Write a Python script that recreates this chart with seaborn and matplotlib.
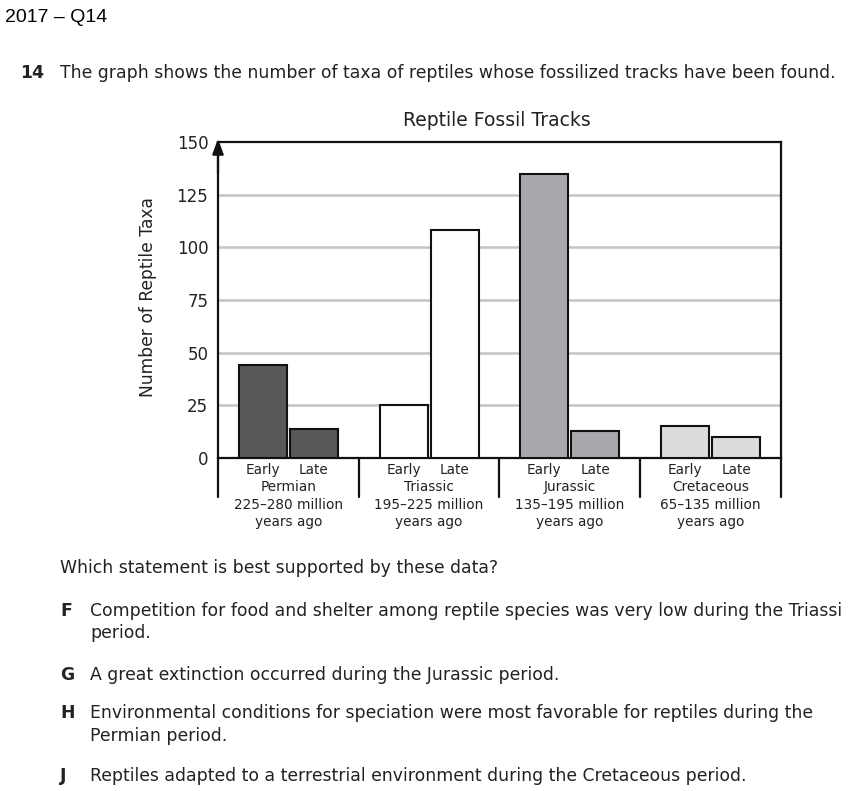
import matplotlib
matplotlib.use("Agg")
import matplotlib.pyplot as plt
import matplotlib.transforms as mtransforms
from matplotlib.lines import Line2D
import seaborn as sns
import pandas as pd

# ---- data ----
periods = ["Permian", "Triassic", "Jurassic", "Cretaceous"]
period_ranges = ["225–280 million", "195–225 million", "135–195 million", "65–135 million"]
stages = ["Early", "Late"]
early_taxa = [44, 25, 135, 15]
late_taxa = [14, 108, 13, 10]
period_colors = ["#58585a", "#ffffff", "#a8a9ac", "#dcdcdc"]
y_ticks = [0, 25, 50, 75, 100, 125, 150]

df = pd.DataFrame({
    "period": periods * 2,
    "stage": ["Early"] * 4 + ["Late"] * 4,
    "taxa": early_taxa + late_taxa,
})

sns.set_theme(style="white")
plt.rcParams["font.family"] = ["DejaVu Sans"]

W, H = 854, 791
fig = plt.figure(figsize=(W / 100, H / 100), dpi=100)
fig.patch.set_facecolor("white")

def fx(px):
    return px / W

def fy(py):
    return 1 - py / H

ax_left, ax_right, ax_top, ax_bottom = 218, 781, 142, 458
ax = fig.add_axes([fx(ax_left), fy(ax_bottom), (ax_right - ax_left) / W, (ax_bottom - ax_top) / H])

sns.barplot(data=df, x="period", y="taxa", hue="stage", order=periods, hue_order=stages,
            width=0.724, gap=0.06, dodge=True, legend=False, ax=ax,
            edgecolor="black", linewidth=1.5, saturation=1, errorbar=None)

for p in ax.patches:
    cx = p.get_x() + p.get_width() / 2
    idx = int(round(cx))
    p.set_facecolor(period_colors[idx])
    p.set_edgecolor("#111111")
    p.set_zorder(3)

ax.set_xlim(-0.5, 3.5)
ax.set_ylim(0, 150)
ax.set_yticks(y_ticks)
ax.set_yticklabels([str(t) for t in y_ticks], fontsize=12, color="#222222")
ax.tick_params(axis="y", length=0, pad=7)
ax.set_xticks([])
ax.set_xlabel("")
ax.set_ylabel("")
for t in y_ticks[1:-1]:
    ax.axhline(t, color="#c4c4c4", lw=1.8, zorder=1)
for s in ax.spines.values():
    s.set_color("#111111")
    s.set_linewidth(1.6)

# arrow on y axis
ax.annotate("", xy=(0, 1.01), xytext=(0, 0.9), xycoords="axes fraction",
            arrowprops=dict(arrowstyle="-|>,head_length=0.65,head_width=0.24",
                            color="#111111", lw=1.6, mutation_scale=14,
                            shrinkA=0, shrinkB=0),
            annotation_clip=False)

# group separators below axis
blend = mtransforms.blended_transform_factory(ax.transData, fig.transFigure)
for xs in [-0.5, 0.5, 1.5, 2.5, 3.5]:
    ax.add_line(Line2D([xs, xs], [fy(458), fy(497)], transform=blend,
                       color="#111111", lw=1.6, clip_on=False))

half = 0.724 / 4
for i, per in enumerate(periods):
    ax.text(i - half, fy(470), "Early", transform=blend, ha="center", va="center",
            fontsize=9.8, color="#222222")
    ax.text(i + half, fy(470), "Late", transform=blend, ha="center", va="center",
            fontsize=9.8, color="#222222")
    ax.text(i, fy(487), per, transform=blend, ha="center", va="center",
            fontsize=9.8, color="#222222")
    ax.text(i, fy(505), period_ranges[i], transform=blend, ha="center", va="center",
            fontsize=9.8, color="#222222")
    ax.text(i, fy(522), "years ago", transform=blend, ha="center", va="center",
            fontsize=9.8, color="#222222")

# title and y-label
fig.text(fx(497), fy(120), "Reptile Fossil Tracks", ha="center", va="center",
         fontsize=13.5, color="#222222")
fig.text(fx(148), fy(297), "Number of Reptile Taxa", ha="center", va="center",
         rotation=90, fontsize=12.3, color="#222222")

# page text
fig.text(fx(5), fy(18), "2017 – Q14", ha="left", va="center", fontsize=14,
         family="Liberation Sans", color="black")
fig.text(fx(20), fy(73), "14", ha="left", va="center", fontsize=12.4,
         fontweight="bold", color="#222222")
fig.text(fx(60), fy(73), "The graph shows the number of taxa of reptiles whose fossilized tracks have been found.",
         ha="left", va="center", fontsize=12.4, color="#222222")
fig.text(fx(60), fy(568), "Which statement is best supported by these data?",
         ha="left", va="center", fontsize=12.4, color="#222222")

options = [
    ("F", ["Competition for food and shelter among reptile species was very low during the Triassi", "period."], [611, 633]),
    ("G", ["A great extinction occurred during the Jurassic period."], [675]),
    ("H", ["Environmental conditions for speciation were most favorable for reptiles during the", "Permian period."], [713, 736]),
    ("J", ["Reptiles adapted to a terrestrial environment during the Cretaceous period."], [776]),
]
for letter, lines, ys in options:
    fig.text(fx(60), fy(ys[0]), letter, ha="left", va="center", fontsize=12.4,
             fontweight="bold", color="#222222")
    for line, yy in zip(lines, ys):
        fig.text(fx(90), fy(yy), line, ha="left", va="center", fontsize=12.4, color="#222222")

fig.savefig("out.png", dpi=100)
